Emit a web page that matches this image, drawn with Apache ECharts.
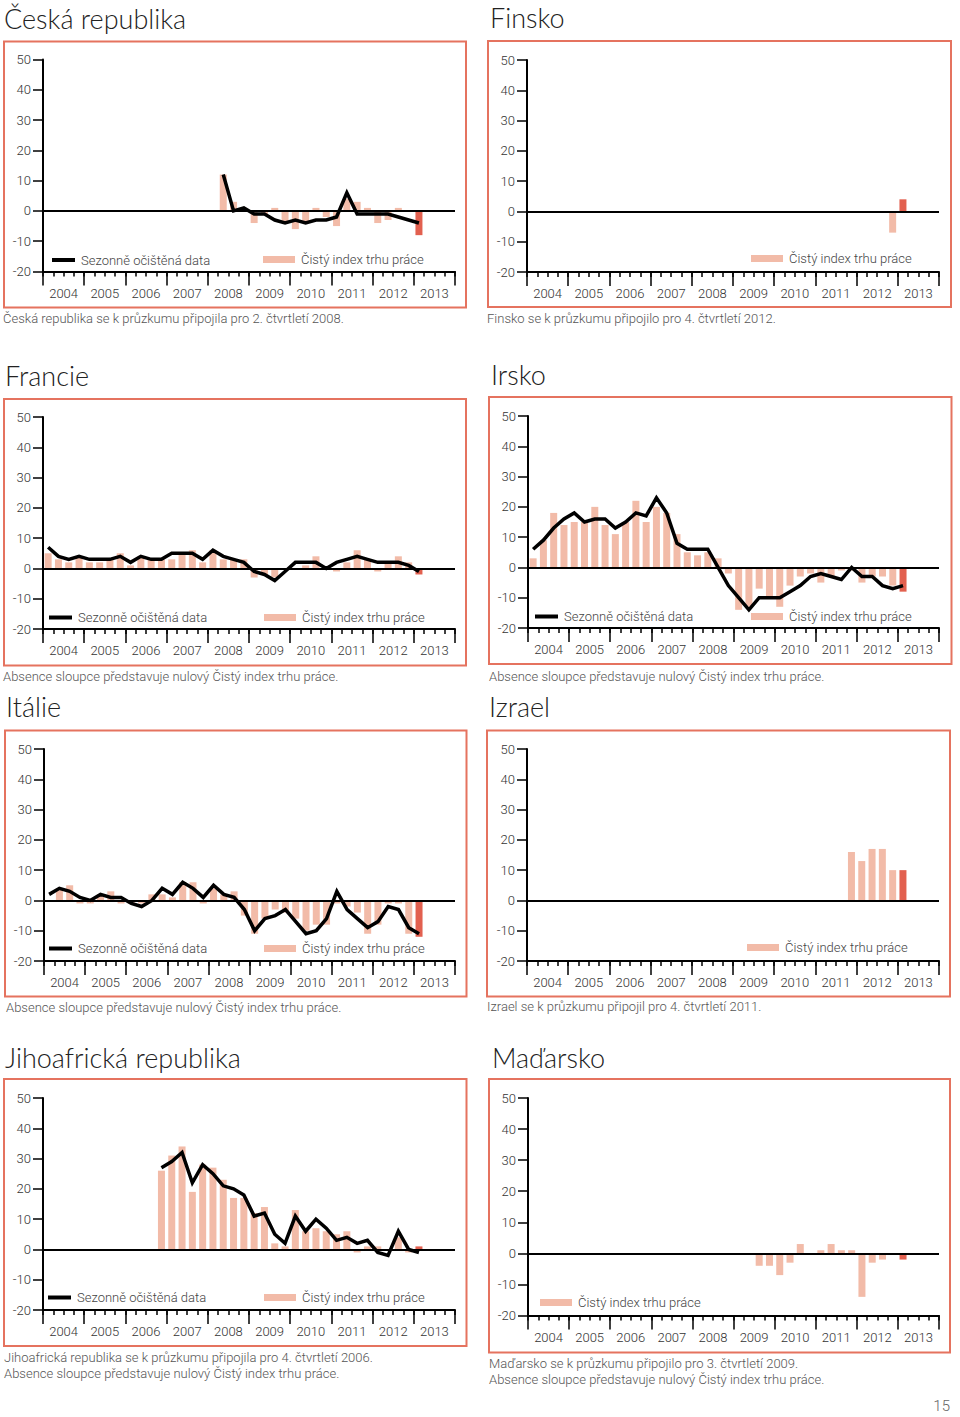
<!DOCTYPE html>
<html>
<head>
<meta charset="utf-8">
<script src="https://cdn.jsdelivr.net/npm/echarts@6/dist/echarts.min.js"></script>
<style>
html,body{margin:0;padding:0;background:#fff;}
#c{width:960px;height:1417px;}
</style>
</head>
<body>
<div id="c"></div>
<script>
// ---------- data ----------
const years = ['2004','2005','2006','2007','2008','2009','2010','2011','2012','2013'];
const quarterNames = ['Q1','Q2','Q3','Q4'];
const quarters = years.flatMap(y => quarterNames.map(q => y + ' ' + q));
const lead = n => Array(n).fill(null);

const barName = 'Čistý index trhu práce';
const lineName = 'Sezonně očištěná data';

// values from Q1 2004 to Q1 2013 (null = country not yet in survey)
const czBars = [...lead(17), 12,3,1,-4,-1,1,-4,-6,-4,1,-2,-5,4,3,1,-4,-3,1,0,-8];
const czLine = [...lead(17), 12,0,1,-1,-1,-3,-4,-3,-4,-3,-3,-2,6,-1,-1,-1,-1,-2,-3,-4];

const fiBars = [...lead(35), -7,4];

const frBars = [5,3,2,4,2,2,3,5,1,4,3,3,3,5,6,2,6,3,3,3,-3,-2,-3,0,0,1,4,0,-1,2,6,3,-1,2,4,2,-2];
const frLine = [7,4,3,4,3,3,3,4,2,4,3,3,5,5,5,3,6,4,3,2,-1,-2,-4,-1,2,2,2,0,2,3,4,3,2,2,2,1,-1];

const ieBars = [3,9,18,14,15,15,20,14,11,15,22,15,20,18,11,5,4,5,3,-2,-14,-13,-7,-10,-13,-6,-3,-2,-5,-3,-1,-1,-5,-3,-3,-6,-8];
const ieLine = [6,9,13,16,18,15,16,16,13,15,18,17,23,18,8,6,6,6,0,-6,-10,-14,-10,-10,-10,-8,-6,-3,-2,-3,-4,0,-3,-3,-6,-7,-6];

const itBars = [0,4,5,-1,-1,2,3,-1,-1,-1,2,2,1,6,6,-1,4,2,3,-5,-11,-6,-3,-4,-6,-10,-8,-8,-1,-2,-4,-11,-8,-1,-1,-11,-12];
const itLine = [2,4,3,1,0,2,1,1,-1,-2,0,4,2,6,4,1,5,2,1,-3,-10,-6,-5,-3,-7,-11,-10,-6,3,-3,-6,-9,-7,-2,-3,-9,-11];

const ilBars = [...lead(31), 16,13,17,17,10,10];

const zaBars = [...lead(11), 26,31,34,19,28,27,23,17,17,12,14,2,1,13,6,7,6,5,6,-1,1,1,0,4,-1,1];
const zaLine = [...lead(11), 27,29,32,22,28,25,21,20,18,11,12,5,2,11,6,10,7,3,4,2,3,-1,-2,6,0,-1];

const huBars = [...lead(22), -4,-4,-7,-3,3,0,1,3,1,1,-14,-3,-2,0,-2];

// ---------- styling / layout ----------
const C_BAR = '#f2bba8', C_LAST = '#e2604f', C_BOX = '#e5735f';
const FONT = 'Roboto, "Helvetica Neue", Arial, sans-serif';
const TITLE_FONT = 'Lato, Roboto, "Helvetica Neue", Arial, sans-serif';
const NOTE_ABS = 'Absence sloupce představuje nulový Čistý index trhu práce.';

const panels = [
  {title:'Česká republika', tx:4, ty:18.5, box:[4,41.5,462,266], g:[43,59.5,412,212], bars:czBars, line:czLine,
   lg:[[52,260.5,'line'],[263,260,'bar']], notes:['Česká republika se k průzkumu připojila pro 2. čtvrtletí 2008.'], nx:3, ny:[318]},
  {title:'Finsko', tx:490, ty:17.5, box:[488,41,463,266], g:[527,60,412,212], bars:fiBars, line:null,
   lg:[[751,259,'bar']], notes:['Finsko se k průzkumu připojilo pro 4. čtvrtletí 2012.'], nx:487, ny:[318]},
  {title:'Francie', tx:5, ty:375.5, box:[4,399,462,266.5], g:[43,417,412,212], bars:frBars, line:frLine,
   lg:[[49,618,'line'],[264,618,'bar']], notes:[NOTE_ABS], nx:3, ny:[676]},
  {title:'Irsko', tx:491, ty:374.5, box:[489,397,462.5,267], g:[528,416,411,212], bars:ieBars, line:ieLine,
   lg:[[535,617,'line'],[751,617,'bar']], notes:[NOTE_ABS], nx:489, ny:[676]},
  {title:'Itálie', tx:6, ty:706.5, box:[5,730.5,461.5,266], g:[44,749,411,212], bars:itBars, line:itLine,
   lg:[[49,949,'line'],[264,949,'bar']], notes:[NOTE_ABS], nx:6, ny:[1007]},
  {title:'Izrael', tx:489, ty:706.5, box:[487,730.5,463,266], g:[527,749,412,212], bars:ilBars, line:null,
   lg:[[747,948,'bar']], notes:['Izrael se k průzkumu připojil pro 4. čtvrtletí 2011.'], nx:487, ny:[1006]},
  {title:'Jihoafrická republika', tx:5, ty:1057.5, box:[4,1079,462.5,267], g:[43,1098,412,212], bars:zaBars, line:zaLine,
   lg:[[48,1298,'line'],[264,1298,'bar']], notes:['Jihoafrická republika se k průzkumu připojila pro 4. čtvrtletí 2006.', NOTE_ABS], nx:4, ny:[1357,1373]},
  {title:'Maďarsko', tx:492, ty:1057.5, box:[489,1079,461,273.5], g:[528,1098,411,217.5], bars:huBars, line:null,
   lg:[[540,1303,'bar']], notes:['Maďarsko se k průzkumu připojilo pro 3. čtvrtletí 2009.', NOTE_ABS], nx:489, ny:[1363,1379]}
];

const grid = [], xAxis = [], yAxis = [], series = [], legend = [], graphic = [];

panels.forEach((p) => {
  const gi = grid.length;
  const rect = {left:p.g[0], top:p.g[1], width:p.g[2], height:p.g[3], containLabel:false};
  grid.push(Object.assign({}, rect));
  grid.push(Object.assign({}, rect));

  // quarter axis (short ticks, axis line at -20)
  xAxis.push({gridIndex:gi, type:'category', data:quarters, boundaryGap:true, position:'bottom',
    axisLine:{show:true, onZero:false, lineStyle:{color:'#000', width:2}},
    axisTick:{show:true, interval:0, length:5, lineStyle:{color:'#000', width:1.5}},
    axisLabel:{show:false}, splitLine:{show:false}});
  // year axis (long ticks, labels)
  xAxis.push({gridIndex:gi+1, type:'category', data:years, boundaryGap:true, position:'bottom',
    axisLine:{show:false, onZero:false},
    axisTick:{show:true, interval:0, length:14, lineStyle:{color:'#000', width:1.5}},
    axisLabel:{show:true, interval:0, margin:15, fontSize:13, color:'#333', fontFamily:FONT, fontWeight:300},
    splitLine:{show:false}});

  yAxis.push({gridIndex:gi, type:'value', min:-20, max:50, interval:10,
    axisLine:{show:true, lineStyle:{color:'#000', width:2}},
    axisTick:{show:true, length:10, lineStyle:{color:'#000', width:1.5}},
    axisLabel:{margin:12, fontSize:13, color:'#333', fontFamily:FONT, fontWeight:300},
    splitLine:{show:false}});
  yAxis.push({gridIndex:gi+1, type:'value', min:-20, max:50, interval:10, show:false});

  const last = p.bars.length - 1;
  series.push({name:barName, type:'bar', xAxisIndex:gi, yAxisIndex:gi, barWidth:7,
    itemStyle:{color:C_BAR},
    data:p.bars.map((v,i) => i === last ? {value:v, itemStyle:{color:C_LAST}} : v),
    markLine:{silent:true, symbol:'none', label:{show:false}, animation:false,
      lineStyle:{color:'#000', width:2, type:'solid'}, data:[{yAxis:0}]},
    z:2});
  if (p.line) {
    series.push({name:lineName, type:'line', xAxisIndex:gi, yAxisIndex:gi, data:p.line,
      showSymbol:false, symbol:'none', itemStyle:{color:'#000'},
      lineStyle:{color:'#000', width:3.5, join:'miter'}, z:4});
  }

  p.lg.forEach(([x, y, kind]) => {
    legend.push({left:x, top:y - 7, padding:0, icon:'rect', selectedMode:false,
      itemWidth: kind === 'line' ? 23 : 32, itemHeight: kind === 'line' ? 4 : 7,
      data:[kind === 'line' ? lineName : barName],
      textStyle:{fontSize:13, color:'#444', fontFamily:FONT, fontWeight:300, padding:[0,0,0,1]}});
  });

  graphic.push({type:'rect', silent:true, shape:{x:p.box[0], y:p.box[1], width:p.box[2], height:p.box[3]},
    style:{fill:'none', stroke:C_BOX, lineWidth:2}});
  graphic.push({type:'text', silent:true, x:p.tx, y:p.ty,
    style:{text:p.title, fontSize:27, fontFamily:TITLE_FONT, fontWeight:300, fill:'#222', textVerticalAlign:'middle'}});
  p.notes.forEach((t, j) => {
    graphic.push({type:'text', silent:true, x:p.nx, y:p.ny[j],
      style:{text:t, fontSize:13, fontFamily:FONT, fontWeight:300, fill:'#555', textVerticalAlign:'middle'}});
  });
});

graphic.push({type:'text', silent:true, x:950, y:1406,
  style:{text:'15', fontSize:15, fontFamily:FONT, fontWeight:300, fill:'#666', textAlign:'right', textVerticalAlign:'middle'}});

const chart = echarts.init(document.getElementById('c'), null, {renderer:'svg'});
chart.setOption({
  animation:false,
  backgroundColor:'#fff',
  grid, xAxis, yAxis, series, legend, graphic
});
</script>
</body>
</html>
